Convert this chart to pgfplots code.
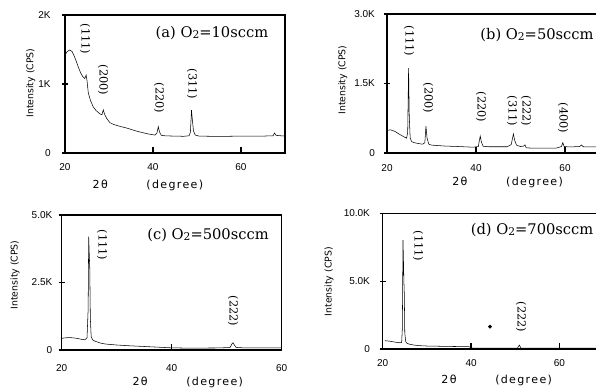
\documentclass[border=0pt]{standalone}
\usepackage{fontspec}
\setmainfont{DejaVu Serif}
\usepackage{pgfplots}
\pgfplotsset{compat=1.18}
\newfontfamily\tickfont{Liberation Sans}
\newfontfamily\xlabfont[LetterSpace=12]{DejaVu Sans}
\newfontfamily\ylabfont{DejaVu Sans}
\newfontfamily\annfont{DejaVu Serif}
\newcommand{\Otwo}{O\raisebox{-0.8pt}{\fontsize{8}{8}\selectfont 2}}
\tikzset{
 pl/.style={rotate=-90, font=\annfont\fontsize{8.5}{9}\selectfont, anchor=center, inner sep=0pt},
 tl/.style={font=\annfont\fontsize{11}{12}\selectfont, anchor=center, inner sep=0pt},
}
\pgfplotsset{
 xrd/.style={
  scale only axis, clip=false,
  axis line style={line width=0.9pt},
  xtick align=inside, ytick align=center, major tick length=4.5pt,
  tickpos=left, xtick={20,40,60}, xticklabels={20,40,60},
  ticklabel style={font=\tickfont\fontsize{7.5}{8}\selectfont},
  scaled ticks=false, minor tick num=0,
  tick style={line width=0.9pt, black},
  xlabel={2θ\hspace{29pt}(degree)}, ylabel={Intensity (CPS)},
  xlabel style={font=\xlabfont\fontsize{8.3}{9}\selectfont, anchor=center},
  ylabel style={font=\ylabfont\fontsize{7}{8}\selectfont, anchor=center},
  cycle list={{black, no markers, line width=0.7pt}},
  /pgf/number format/assume math mode=true,
 },
}
\begin{document}
\begin{tikzpicture}
\useasboundingbox (0pt,0pt) rectangle (447pt,-291.75pt);
\clip (0pt,0pt) rectangle (447pt,-291.75pt);
% (a)
\begin{axis}[xrd, at={(48.75pt,-114.75pt)}, anchor=south west,
  width=165pt, height=103.5pt, xmin=20, xmax=70, ymin=0, ymax=2000,
  ytick={0,1000,2000}, yticklabels={0,1K,2K},
  xticklabel style={yshift=-4pt}, yticklabel style={xshift=-5pt},
  xlabel style={at={(axis description cs:0.377,-0.232)}},
  ylabel style={at={(axis description cs:-0.156,0.507)}}]
\addplot coordinates {(20,1420) (20.5,1470) (21.1,1495) (21.6,1470) (22,1420) (22.5,1340) (23,1250) (23.5,1170) (24,1110) (24.5,1080) (24.8,1130) (25.0,1050) (25.3,870) (25.8,760) (26.4,670) (27,620) (27.5,590) (28,565) (28.4,555) (28.7,625) (29,560) (29.5,500) (30.2,440) (31,415) (32,395) (33,378) (34,362) (35,342) (36,322) (37,305) (38,290) (39,275) (40.45,260) (40.9,290) (41.2,381) (41.5,300) (41.9,255) (43,248) (45,245) (47,242) (48.2,250) (48.5,300) (48.75,620) (48.95,480) (49.2,320) (49.6,260) (50.5,245) (55,240) (60,245) (65,245) (67.3,250) (67.6,290) (68,255) (70,245)};
\node[pl] at (axis cs:24.55,1652) {(111)};
\node[pl] at (axis cs:28.64,1058) {(200)};
\node[pl] at (axis cs:41.36,797) {(220)};
\node[pl] at (axis cs:48.86,1000) {(311)};
\node[tl] at (axis cs:53.4,1739) {(a) \Otwo=10sccm};
\end{axis}
% (b)
\begin{axis}[xrd, at={(290.25pt,-114.75pt)}, anchor=south west,
  width=166.9pt, height=104.25pt, xmin=20, xmax=70, ymin=0, ymax=3000,
  ytick={0,1500,3000}, yticklabels={0,1.5K,3.0K},
  xticklabel style={yshift=-5pt}, yticklabel style={xshift=-3.3pt},
  xlabel style={at={(axis description cs:0.542,-0.214)}},
  ylabel style={at={(axis description cs:-0.199,0.525)}}]
\addplot coordinates {(20,490) (20.8,500) (21.8,465) (22.7,410) (23.7,355) (24.4,320) (24.65,450) (24.85,1830) (25.0,800) (25.2,330) (25.5,250) (26,225) (27,205) (28,190) (28.5,220) (28.75,580) (29.0,320) (29.4,190) (30,170) (33,150) (36,140) (39.4,125) (40.5,140) (40.95,365) (41.2,240) (41.6,145) (43,135) (47,135) (47.9,180) (48.4,410) (48.7,270) (49.1,170) (50,140) (50.7,150) (51.0,175) (51.3,110) (53,105) (58,105) (59.2,140) (59.5,222) (59.8,140) (61,130) (63.3,140) (63.7,173) (64.1,135) (66,130) (70,130)};
\node[pl] at (axis cs:24.94,2417) {(111)};
\node[pl] at (axis cs:29.21,1187) {(200)};
\node[pl] at (axis cs:41.12,993) {(220)};
\node[pl] at (axis cs:48.09,906) {(311)};
\node[pl] at (axis cs:51.24,906) {(222)};
\node[pl] at (axis cs:59.55,755) {(400)};
\node[tl] at (axis cs:53.7,2546) {(b) \Otwo=50sccm};
\end{axis}
% (c)
\begin{axis}[xrd, at={(46.3pt,-262.5pt)}, anchor=south west,
  width=165pt, height=101.25pt, xmin=20, xmax=60, ymin=0, ymax=5000,
  ytick={0,2500,5000}, yticklabels={0,2.5K,5.0K},
  xticklabel style={yshift=-7pt}, yticklabel style={xshift=-1.3pt},
  xlabel style={at={(axis description cs:0.573,-0.242)}},
  ylabel style={at={(axis description cs:-0.212,0.556)}}]
\addplot coordinates {(20,430) (20.5,450) (21.5,460) (22.5,440) (23.5,400) (24.2,380) (24.6,450) (24.8,1500) (24.9,4200) (25.0,3600) (25.1,3000) (25.2,1200) (25.35,500) (25.6,380) (26,330) (27,260) (28,220) (30,185) (32,160) (35,130) (38,100) (40,80) (43,70) (48,75) (50.6,90) (50.95,230) (51.15,270) (51.4,180) (51.7,95) (53,80) (57,75) (60,75)};
\node[pl] at (axis cs:27.33,3889) {(111)};
\node[pl] at (axis cs:51.15,1444) {(222)};
\node[tl] at (axis cs:46.6,4260) {(c) \Otwo=500sccm};
\end{axis}
% (d)
\begin{axis}[xrd, at={(287pt,-261.75pt)}, anchor=south west,
  width=165.75pt, height=101.8pt, xmin=20, xmax=70, ymin=0, ymax=10000,
  ytick={0,5000,10000}, yticklabels={0,5.0K,10.0K},
  xticklabel style={yshift=-4pt}, yticklabel style={xshift=-3.8pt},
  xlabel style={at={(axis description cs:0.516,-0.228)}},
  ylabel style={at={(axis description cs:-0.243,0.496)}}]
\addplot coordinates {(20.5,612) (21,600) (22,555) (23,495) (23.8,460) (24.3,480) (24.45,1500) (24.6,8030) (24.7,6600) (24.8,5000) (24.9,4000) (25.0,1200) (25.2,560) (25.5,420) (26,360) (27,295) (28,250) (30,220) (35,190) (39.5,170) (40.3,70) (45,55) (50.5,65) (50.9,290) (51.3,70) (55,55) (60,55) (70,55)};
\addplot[black, only marks, mark=*, mark size=1.2pt] coordinates {(44.28,1643)};
\node[pl] at (axis cs:27.99,7591) {(111)};
\node[pl] at (axis cs:51.29,2358) {(222)};
\node[tl] at (axis cs:53.8,8770) {(d) \Otwo=700sccm};
\end{axis}
\end{tikzpicture}
\end{document}
